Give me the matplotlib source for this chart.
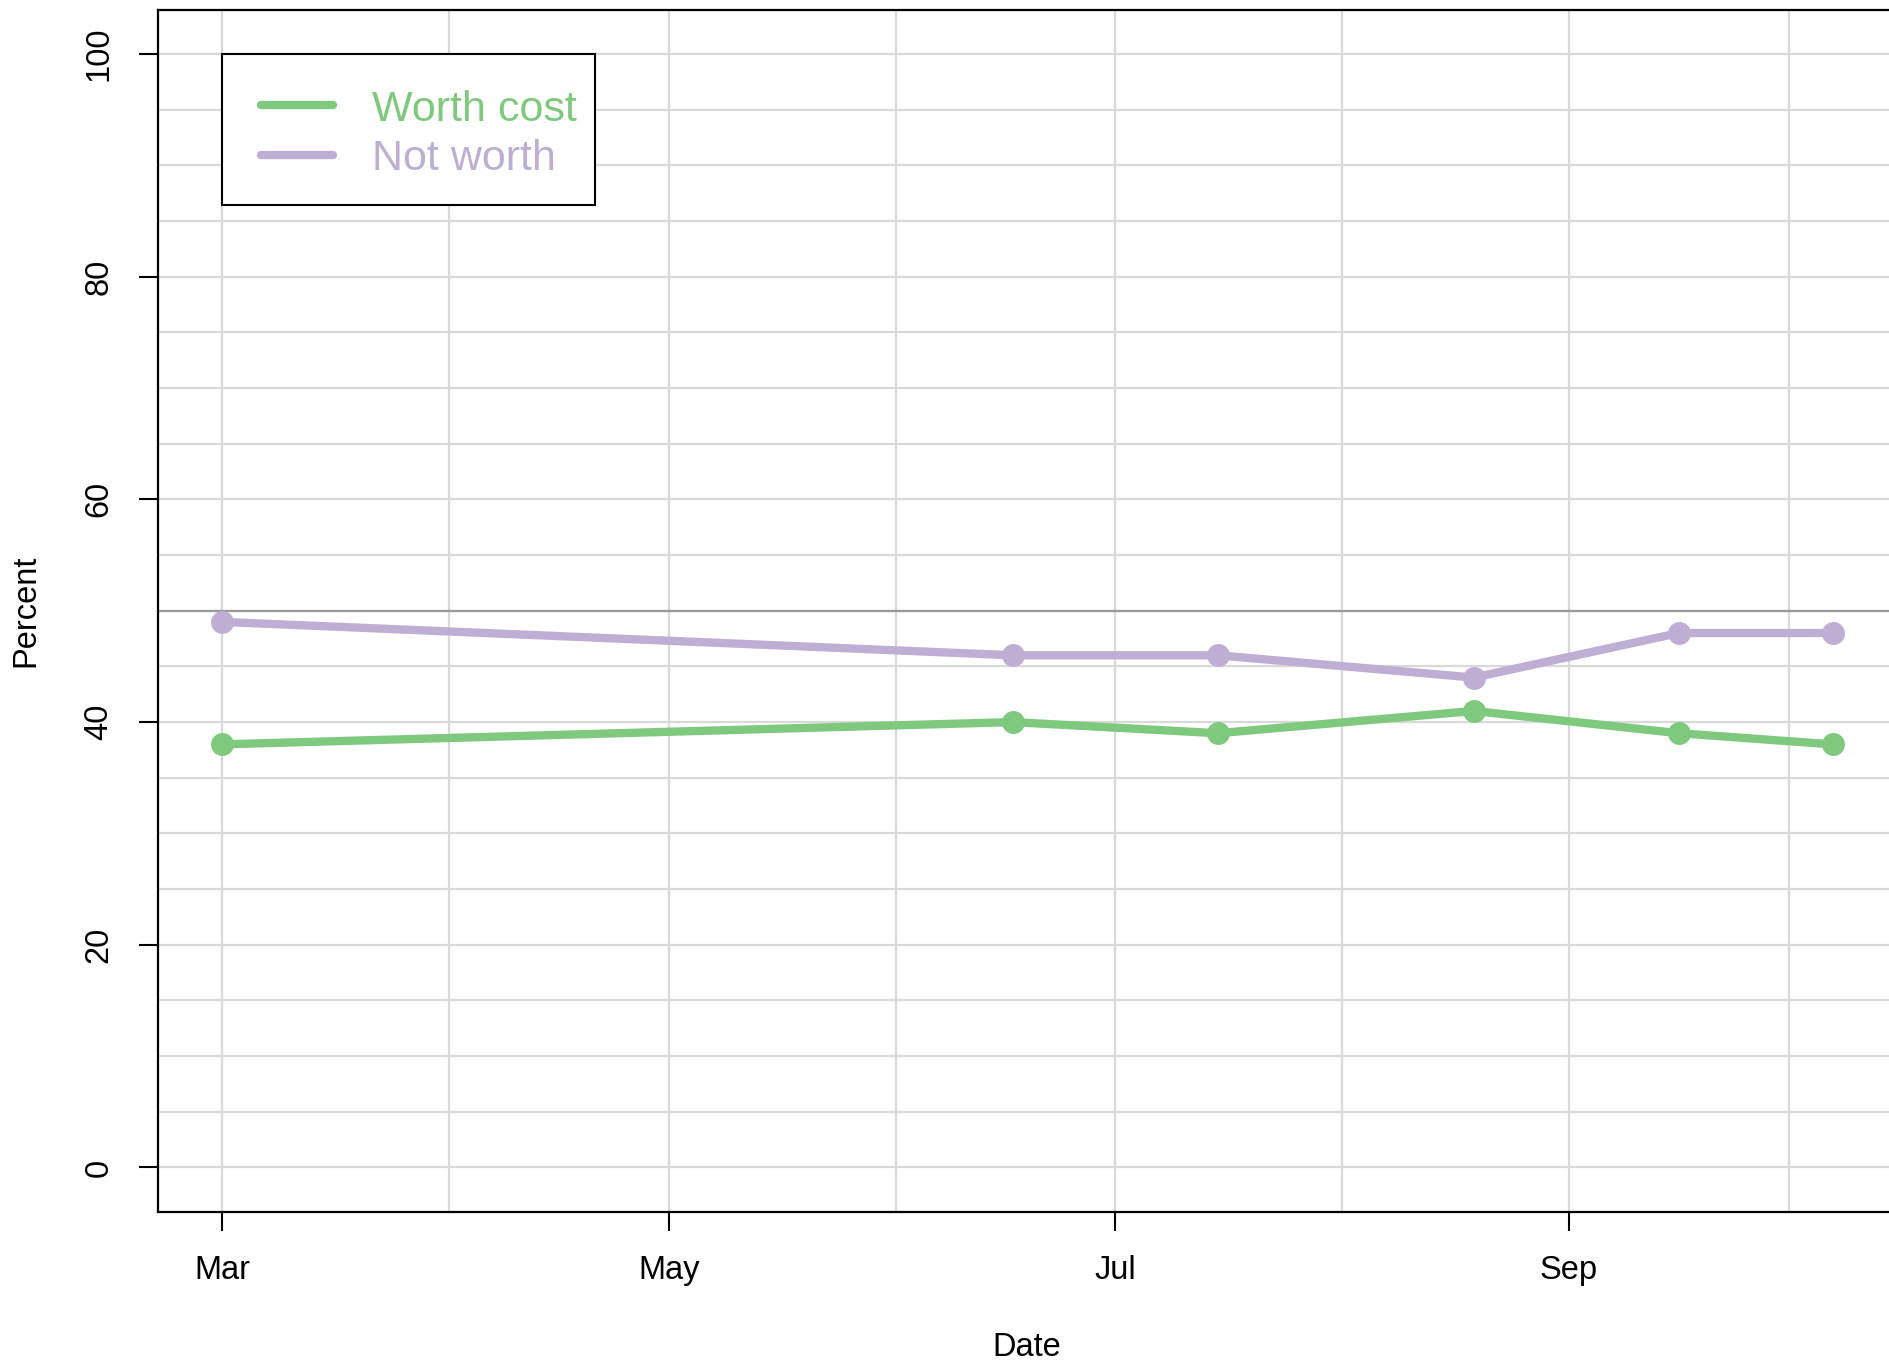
import pandas as pd
import matplotlib.pyplot as plt
import matplotlib.dates as mdates
from matplotlib.patches import Rectangle

plt.rcParams['font.family'] = ['Liberation Sans', 'DejaVu Sans']

dates = pd.to_datetime(['2010-03-01', '2010-06-17', '2010-07-15',
                        '2010-08-19', '2010-09-16', '2010-10-07'])
worth_cost = [38, 40, 39, 41, 39, 38]
not_worth = [49, 46, 46, 44, 48, 48]

green = '#7FC97F'
purple = '#BEAED4'

fig = plt.figure(figsize=(18.89, 13.63), dpi=100)
ax = fig.add_axes([0.0835, 0.1108, 0.9207, 0.8822])

# x range with R-style 4% padding
span = dates[-1] - dates[0]
ax.set_xlim(dates[0] - span * 0.04, dates[-1] + span * 0.04)
ax.set_ylim(-4, 104)

# grid: monthly vertical, every 5 horizontal
for m in pd.date_range('2010-03-01', '2010-10-01', freq='MS'):
    ax.axvline(m, color='#D9D9D9', lw=1.6, zorder=0)
for yv in range(0, 101, 5):
    ax.axhline(yv, color='#D9D9D9', lw=1.6, zorder=0)
ax.axhline(50, color='#999999', lw=1.6, zorder=1)

ax.plot(dates, worth_cost, color=green, lw=6, marker='o', ms=15.5,
        solid_capstyle='round', solid_joinstyle='round',
        label='Worth cost', zorder=3)
ax.plot(dates, not_worth, color=purple, lw=6, marker='o', ms=15.5,
        solid_capstyle='round', solid_joinstyle='round',
        label='Not worth', zorder=3)

ax.set_yticks([0, 20, 40, 60, 80, 100])
ax.set_xticks(pd.to_datetime(['2010-03-01', '2010-05-01', '2010-07-01', '2010-09-01']))
ax.xaxis.set_major_formatter(mdates.DateFormatter('%b'))
ax.tick_params(axis='both', length=14, width=1.5, labelsize=23.5, pad=17)
plt.setp(ax.get_yticklabels(), rotation=90, va='center')

for s in ax.spines.values():
    s.set_linewidth(1.6)

fig.text(0.5435, 0.0115, 'Date', fontsize=23.5, ha='center', va='center')
fig.text(0.0135, 0.552, 'Percent', fontsize=23.5, ha='center', va='center', rotation=90)

# legend box drawn separately (R legends are not symmetric in padding)
box = Rectangle((0.1174, 0.8497), 0.1976, 0.1105, transform=fig.transFigure,
                facecolor='white', edgecolor='black', lw=1.5,
                clip_on=False, zorder=5)
ax.add_patch(box)
leg = ax.legend(loc='upper left', bbox_to_anchor=(0.1381, 0.9343),
                bbox_transform=fig.transFigure, fontsize=31, frameon=False,
                handlelength=1.68, handletextpad=0.91, labelspacing=0.22,
                borderpad=0, borderaxespad=0, markerscale=0)
leg.set_zorder(6)
for h in leg.get_lines():
    h.set_marker('')
    h.set_linewidth(6)
    h.set_solid_capstyle('round')
for t, c in zip(leg.get_texts(), [green, purple]):
    t.set_color(c)

fig.savefig('out.png', dpi=100)
